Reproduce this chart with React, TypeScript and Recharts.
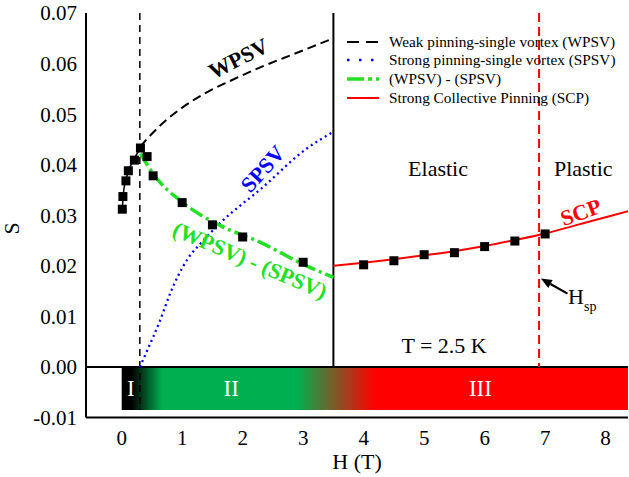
import React from "react";
import {
  ComposedChart,
  Line,
  Scatter,
  XAxis,
  YAxis,
  ReferenceLine,
  ReferenceArea,
  ReferenceDot,
  Legend,
} from "recharts";

const SERIF = "'Liberation Serif', 'Times New Roman', Times, serif";

// measured S(H) at T = 2.5 K
const pointH = [0.01, 0.02, 0.07, 0.11, 0.21, 0.31, 0.42, 0.52, 1.0, 1.5, 2.0, 3.0, 4.0, 4.5, 5.0, 5.5, 6.0, 6.5, 7.0];
const pointS = [
  0.0312, 0.0337, 0.0368, 0.0388, 0.0409, 0.0433, 0.0416, 0.0378, 0.0325, 0.0281, 0.0257, 0.0207,
  0.0202, 0.021, 0.0222, 0.0226, 0.0238, 0.0249, 0.0263,
];

// low field guide through the first points
const lowFitH = [0.01, 0.03, 0.07, 0.12, 0.2, 0.31];
const lowFitS = [0.0312, 0.0345, 0.037, 0.039, 0.041, 0.0433];

// weak pinning - single vortex
const wpsvH = [0.31, 0.45, 0.65, 0.98, 1.36, 1.8, 2.3, 2.85, 3.5];
const wpsvS = [0.0436, 0.0455, 0.0479, 0.0511, 0.054, 0.0566, 0.0593, 0.0619, 0.065];

// strong pinning - single vortex
const spsvH = [0.3, 0.42, 0.635, 0.8, 1.076, 1.35, 1.64, 2.3, 3.06, 3.5];
const spsvS = [0.0, 0.0032, 0.0092, 0.0145, 0.0211, 0.025, 0.0286, 0.0352, 0.0432, 0.0465];

// (WPSV) - (SPSV)
const diffH = [0.31, 0.52, 1.01, 1.64, 2.3, 3.0, 3.5];
const diffS = [0.0422, 0.0382, 0.0325, 0.0279, 0.0246, 0.0203, 0.0177];

// strong collective pinning
const scpH = [3.5, 4.0, 4.5, 5.0, 5.5, 6.0, 6.5, 7.0, 7.5, 8.0, 8.37];
const scpS = [0.02, 0.0206, 0.0213, 0.0221, 0.0229, 0.0239, 0.0251, 0.0264, 0.028, 0.0296, 0.0308];

const xMajor = [0, 1, 2, 3, 4, 5, 6, 7, 8];
const xMinor = [-0.5, 0.5, 1.5, 2.5, 3.5, 4.5, 5.5, 6.5, 7.5];
const yMajor = [-0.01, 0, 0.01, 0.02, 0.03, 0.04, 0.05, 0.06, 0.07];
const yMinor = [-0.005, 0.005, 0.015, 0.025, 0.035, 0.045, 0.055, 0.065];

const legendLabels = [
  "Weak pinning-single vortex (WPSV)",
  "Strong pinning-single vortex (SPSV)",
  "(WPSV) - (SPSV)",
  "Strong Collective Pinning (SCP)",
];

const X_DOMAIN: [number, number] = [-0.59, 8.37];
const Y_DOMAIN: [number, number] = [-0.01, 0.07];

const BLACK = "#000000";
const BLUE = "#0000ff";
const GREEN = "#22e022";
const RED = "#ff0000";

const legendColors = [BLACK, BLUE, GREEN, RED];
const legendDashes = ["12 7", "2.5 9.5", "17 4 4 4", ""];
const legendWidths = [2, 2.5, 3.5, 2];

const rows = (hs: number[], ss: number[]) => hs.map((h, i) => ({ h, s: ss[i] }));

const tickFont = { fill: BLACK, fontSize: 21, fontFamily: SERIF, style: { fontFamily: SERIF } };

function LegendBox() {
  return (
    <div style={{ fontFamily: SERIF, fontSize: 15.3, color: BLACK }}>
      {legendLabels.map((label, i) => (
        <div key={label} style={{ display: "flex", alignItems: "center", height: 18.7 }}>
          <svg width={32} height={10} style={{ marginRight: 10, flex: "none" }}>
            <line
              x1={0}
              y1={5}
              x2={32}
              y2={5}
              stroke={legendColors[i]}
              strokeWidth={legendWidths[i]}
              strokeDasharray={legendDashes[i] || undefined}
            />
          </svg>
          <span style={{ whiteSpace: "nowrap" }}>{label}</span>
        </div>
      ))}
    </div>
  );
}

function note(text: string, color: string, angle: number, size: number, bold: boolean) {
  return (p: any) => (
    <text
      x={p.cx}
      y={p.cy}
      fill={color}
      fontSize={size}
      fontWeight={bold ? 700 : 400}
      style={{ fontFamily: SERIF }}
      textAnchor="middle"
      dominantBaseline="central"
      transform={angle ? `rotate(${angle} ${p.cx} ${p.cy})` : undefined}
    >
      {text}
    </text>
  );
}

function Arrow(p: any) {
  const { x1, y1, x2, y2 } = p;
  const len = Math.hypot(x2 - x1, y2 - y1) || 1;
  const ux = (x2 - x1) / len;
  const uy = (y2 - y1) / len;
  const head = 11;
  const half = 4.5;
  const bx = x2 - ux * head;
  const by = y2 - uy * head;
  return (
    <g>
      <line x1={x1} y1={y1} x2={bx} y2={by} stroke={BLACK} strokeWidth={2.2} />
      <polygon
        points={`${x2},${y2} ${bx - uy * half},${by + ux * half} ${bx + uy * half},${by - ux * half}`}
        fill={BLACK}
      />
    </g>
  );
}

function Square(p: any) {
  return <rect x={p.cx - 4.5} y={p.cy - 4.5} width={9} height={9} fill={BLACK} />;
}

function Hsp(p: any) {
  return (
    <text x={p.cx} y={p.cy} fill={BLACK} style={{ fontFamily: SERIF }} fontSize={22}>
      H
      <tspan fontSize={14} dy={7}>
        sp
      </tspan>
    </text>
  );
}

const tickAxis = { type: "number" as const, allowDataOverflow: true, interval: 0 as const, tick: false };

export default function App() {
  return (
    <div
      style={{
        position: "absolute",
        left: 0,
        top: 0,
        width: 629,
        height: 477,
        background: "#fff",
        fontFamily: SERIF,
      }}
    >
      <ComposedChart width={629} height={477} margin={{ top: 13, right: 1, bottom: 0, left: 0 }} style={{ fontFamily: SERIF }}>
        <defs>
          <linearGradient id="phaseBand" x1="0" y1="0" x2="1" y2="0">
            <stop offset="0" stopColor="#000000" />
            <stop offset="0.02" stopColor="#000000" />
            <stop offset="0.08" stopColor="#00b050" />
            <stop offset="0.345" stopColor="#00b050" />
            <stop offset="0.5" stopColor="#ff0000" />
            <stop offset="1" stopColor="#ff0000" />
          </linearGradient>
        </defs>

        <XAxis
          xAxisId="x"
          dataKey="h"
          type="number"
          domain={X_DOMAIN}
          allowDataOverflow
          ticks={xMajor}
          interval={0}
          tickLine={false}
          tickSize={0}
          tickMargin={13}
          height={59.5}
          axisLine={{ stroke: BLACK, strokeWidth: 2 }}
          tick={tickFont}
          label={{ value: "H (T)", position: "insideBottom", offset: 8, fill: BLACK, fontSize: 22, fontFamily: SERIF, style: { fontFamily: SERIF } }}
        />
        <YAxis
          yAxisId="y"
          dataKey="s"
          type="number"
          domain={Y_DOMAIN}
          allowDataOverflow
          ticks={yMajor}
          interval={0}
          tickLine={false}
          tickSize={0}
          tickMargin={9}
          width={86}
          axisLine={{ stroke: BLACK, strokeWidth: 2 }}
          tickFormatter={(v: number) => v.toFixed(2)}
          tick={tickFont}
          label={{ value: "S", angle: -90, position: "center", dx: -32, dy: 13, fill: BLACK, fontSize: 22, fontFamily: SERIF, style: { fontFamily: SERIF } }}
        />

        {/* inward ticks and frame */}
        <XAxis xAxisId="bMaj" orientation="bottom" mirror height={0} domain={X_DOMAIN} ticks={xMajor} tickSize={7} axisLine={false} tickLine={{ stroke: BLACK, strokeWidth: 1.5 }} {...tickAxis} />
        <XAxis xAxisId="bMin" orientation="bottom" mirror height={0} domain={X_DOMAIN} ticks={xMinor} tickSize={4} axisLine={false} tickLine={{ stroke: BLACK, strokeWidth: 1.5 }} {...tickAxis} />
        <XAxis xAxisId="tMaj" orientation="top" mirror height={0} domain={X_DOMAIN} ticks={xMajor} tickSize={7} axisLine={{ stroke: BLACK, strokeWidth: 1.5 }} tickLine={{ stroke: BLACK, strokeWidth: 1.5 }} {...tickAxis} />
        <XAxis xAxisId="tMin" orientation="top" mirror height={0} domain={X_DOMAIN} ticks={xMinor} tickSize={4} axisLine={false} tickLine={{ stroke: BLACK, strokeWidth: 1.5 }} {...tickAxis} />
        <YAxis yAxisId="lMaj" orientation="left" mirror width={0} domain={Y_DOMAIN} ticks={yMajor} tickSize={7} axisLine={false} tickLine={{ stroke: BLACK, strokeWidth: 1.5 }} {...tickAxis} />
        <YAxis yAxisId="lMin" orientation="left" mirror width={0} domain={Y_DOMAIN} ticks={yMinor} tickSize={4} axisLine={false} tickLine={{ stroke: BLACK, strokeWidth: 1.5 }} {...tickAxis} />
        <YAxis yAxisId="rMaj" orientation="right" mirror width={0} domain={Y_DOMAIN} ticks={yMajor} tickSize={7} axisLine={{ stroke: BLACK, strokeWidth: 1.5 }} tickLine={{ stroke: BLACK, strokeWidth: 1.5 }} {...tickAxis} />
        <YAxis yAxisId="rMin" orientation="right" mirror width={0} domain={Y_DOMAIN} ticks={yMinor} tickSize={4} axisLine={false} tickLine={{ stroke: BLACK, strokeWidth: 1.5 }} {...tickAxis} />

        {/* phase band I / II / III */}
        <ReferenceArea xAxisId="x" yAxisId="y" x1={0} x2={8.37} y1={-0.0085} y2={0} fill="url(#phaseBand)" fillOpacity={1} stroke="none" />
        <ReferenceDot xAxisId="x" yAxisId="y" x={0.15} y={-0.0043} r={0} shape={note("I", "#ffffff", 0, 23, false)} />
        <ReferenceDot xAxisId="x" yAxisId="y" x={1.81} y={-0.0043} r={0} shape={note("II", "#ffffff", 0, 23, false)} />
        <ReferenceDot xAxisId="x" yAxisId="y" x={5.93} y={-0.0043} r={0} shape={note("III", "#ffffff", 0, 23, false)} />

        <ReferenceLine xAxisId="x" yAxisId="y" y={0} stroke={BLACK} strokeWidth={2} />
        <ReferenceLine xAxisId="x" yAxisId="y" segment={[{ x: 0.3, y: 0.07 }, { x: 0.3, y: -0.0085 }]} stroke={BLACK} strokeWidth={1.5} strokeDasharray="7 5" />
        <ReferenceLine xAxisId="x" yAxisId="y" segment={[{ x: 3.5, y: 0.07 }, { x: 3.5, y: 0 }]} stroke={BLACK} strokeWidth={2} />
        <ReferenceLine xAxisId="x" yAxisId="y" segment={[{ x: 6.9, y: 0.07 }, { x: 6.9, y: 0 }]} stroke={RED} strokeWidth={2} strokeDasharray="9 5" />

        <Line xAxisId="x" yAxisId="y" data={rows(wpsvH, wpsvS)} dataKey="s" type="monotone" stroke={BLACK} strokeWidth={2} strokeDasharray="9 5" dot={false} activeDot={false} isAnimationActive={false} />
        <Line xAxisId="x" yAxisId="y" data={rows(spsvH, spsvS)} dataKey="s" type="monotone" stroke={BLUE} strokeWidth={2.3} strokeDasharray="2 3.5" dot={false} activeDot={false} isAnimationActive={false} />
        <Line xAxisId="x" yAxisId="y" data={rows(diffH, diffS)} dataKey="s" type="monotone" stroke={GREEN} strokeWidth={3.5} strokeDasharray="14 4 3 4" dot={false} activeDot={false} isAnimationActive={false} />
        <Line xAxisId="x" yAxisId="y" data={rows(scpH, scpS)} dataKey="s" type="monotone" stroke={RED} strokeWidth={2} dot={false} activeDot={false} isAnimationActive={false} />
        <Line xAxisId="x" yAxisId="y" data={rows(lowFitH, lowFitS)} dataKey="s" type="monotone" stroke={BLACK} strokeWidth={1.5} dot={false} activeDot={false} isAnimationActive={false} />

        <Scatter xAxisId="x" yAxisId="y" data={rows(pointH, pointS)} dataKey="s" shape={Square} isAnimationActive={false} />

        {/* curve labels and region notes */}
        <ReferenceDot xAxisId="x" yAxisId="y" x={1.93} y={0.061} r={0} shape={note("WPSV", BLACK, -27, 22, true)} />
        <ReferenceDot xAxisId="x" yAxisId="y" x={2.33} y={0.0392} r={0} shape={note("SPSV", BLUE, -48, 22, true)} />
        <ReferenceDot xAxisId="x" yAxisId="y" x={2.12} y={0.0211} r={0} shape={note("(WPSV) - (SPSV)", GREEN, 23, 22, true)} />
        <ReferenceDot xAxisId="x" yAxisId="y" x={7.59} y={0.0306} r={0} shape={note("SCP", RED, -20, 22, true)} />
        <ReferenceDot xAxisId="x" yAxisId="y" x={5.23} y={0.0393} r={0} shape={note("Elastic", BLACK, 0, 22, false)} />
        <ReferenceDot xAxisId="x" yAxisId="y" x={7.63} y={0.0392} r={0} shape={note("Plastic", BLACK, 0, 22, false)} />
        <ReferenceDot xAxisId="x" yAxisId="y" x={5.33} y={0.0043} r={0} shape={note("T = 2.5 K", BLACK, 0, 22, false)} />

        <ReferenceLine xAxisId="x" yAxisId="y" segment={[{ x: 7.37, y: 0.0145 }, { x: 6.93, y: 0.01747 }]} shape={Arrow} />
        <ReferenceDot xAxisId="x" yAxisId="y" x={7.38} y={0.0125} r={0} shape={Hsp} />

        <Legend
          content={<LegendBox />}
          layout="vertical"
          align="center"
          verticalAlign="middle"
          wrapperStyle={{ left: 347, top: 32.4, width: 280 }}
        />
      </ComposedChart>
    </div>
  );
}
